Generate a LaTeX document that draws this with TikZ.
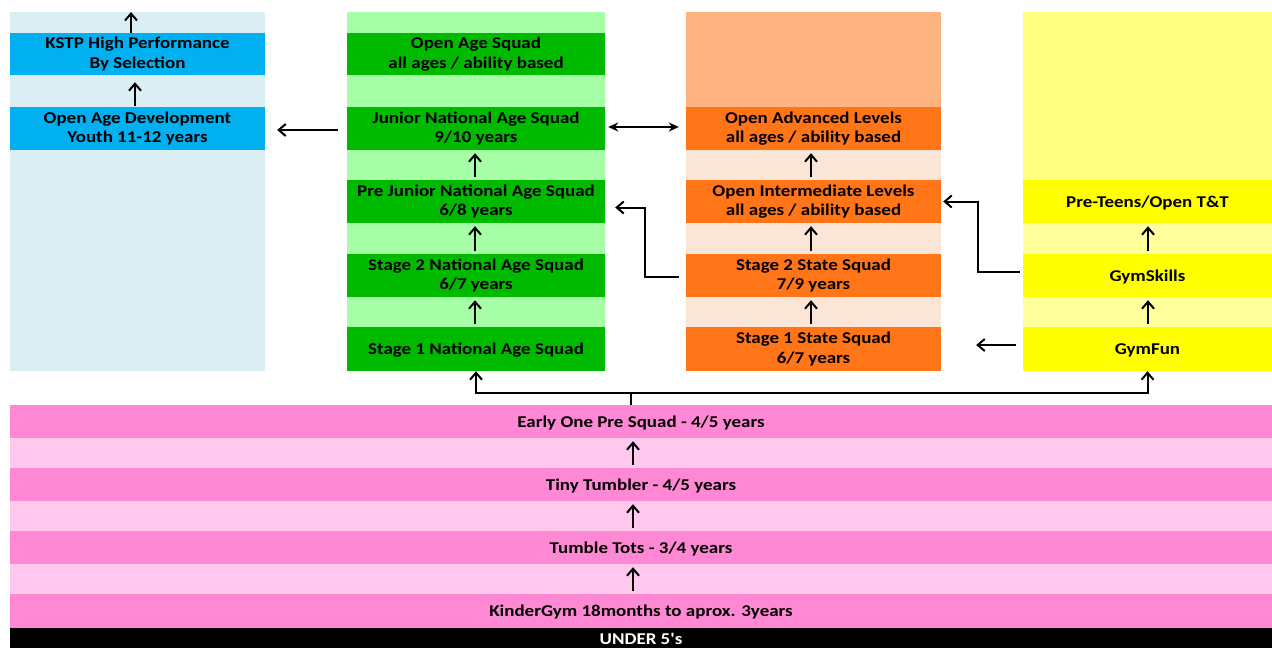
\documentclass[tikz,border=0pt]{standalone}
\usepackage{fontspec}
\newfontfamily\lblfont{Carlito}[FakeStretch=1.15]
\usetikzlibrary{arrows.meta}
\definecolor{bluelt}{HTML}{DAEEF3}
\definecolor{bluedk}{HTML}{00B0F0}
\definecolor{greenlt}{HTML}{A6FFA6}
\definecolor{greendk}{HTML}{00BA00}
\definecolor{orangetop}{HTML}{FFB380}
\definecolor{orangelt}{HTML}{FBE5D6}
\definecolor{orangedk}{HTML}{FF7518}
\definecolor{yellowtop}{HTML}{FFFF80}
\definecolor{yellowlt}{HTML}{FFFF9C}
\definecolor{yellowdk}{HTML}{FFFF00}
\definecolor{pinklt}{HTML}{FFC8EC}
\definecolor{pinkdk}{HTML}{FF88D4}
\begin{document}
\begin{tikzpicture}[x=1pt,y=-1pt,
  panel/.style={rectangle, draw=none, inner sep=0pt, anchor=north west},
  level/.style={rectangle, draw=none, inner sep=0pt, align=center, text=black,
    minimum height=43pt, font=\lblfont\bfseries\fontsize{16.5}{19.5}\selectfont},
  oneline/.style={text depth=0.5pt},
  bluebox/.style={level, fill=bluedk, minimum width=255pt},
  greenbox/.style={level, fill=greendk, minimum width=258pt},
  orangebox/.style={level, fill=orangedk, minimum width=255pt},
  yellowbox/.style={level, oneline, fill=yellowdk, minimum width=249pt},
  pinkbox/.style={level, oneline, fill=pinkdk, minimum width=1262pt, minimum height=33pt},
  up/.style={draw=black, line width=2pt, -{Straight Barb[length=7pt,width=12pt]}},
  stepup/.style={up, shorten <=3pt, shorten >=3pt},
  both/.style={draw=black, line width=2pt, {Stealth[length=10pt,width=9pt]}-{Stealth[length=10pt,width=9pt]}}
]
\useasboundingbox (0,0) rectangle (1272,648);
\fill[white] (0,0) rectangle (1272,648);

% ---- blue column
\node[panel, fill=bluelt, minimum width=255pt, minimum height=359pt] (bbg) at (10,12) {};
\node[bluebox, minimum height=42pt] (kstp) at (137.5,54) {KSTP High Performance\\By Selection};
\node[bluebox] (oad) at (137.5,128.5) {Open Age Development\\Youth 11-12 years};

% ---- green column
\node[panel, fill=greenlt, minimum width=258pt, minimum height=359pt] (gbg) at (347,12) {};
\node[greenbox, minimum height=42pt] (oas) at (476,54) {Open Age Squad\\all ages / ability based};
\node[greenbox] (jnr) at (476,128.5) {Junior National Age Squad\\9/10 years};
\node[greenbox] (pjn) at (476,201.5) {Pre Junior National Age Squad\\6/8 years};
\node[greenbox] (s2n) at (476,275.5) {Stage 2 National Age Squad\\6/7 years};
\node[greenbox, oneline, minimum height=44pt] (s1n) at (476,349) {Stage 1 National Age Squad};

% ---- orange column
\node[panel, fill=orangetop, minimum width=255pt, minimum height=95pt] (obgt) at (686,12) {};
\node[panel, fill=orangelt, minimum width=255pt, minimum height=264pt] (obg) at (686,107) {};
\node[orangebox] (oadv) at (813.5,128.5) {Open Advanced Levels\\all ages / ability based};
\node[orangebox] (oint) at (813.5,201.5) {Open Intermediate Levels\\all ages / ability based};
\node[orangebox] (s2s) at (813.5,275.5) {Stage 2 State Squad\\7/9 years};
\node[orangebox, minimum height=44pt] (s1s) at (813.5,349) {Stage 1 State Squad\\6/7 years};

% ---- yellow column
\node[panel, fill=yellowtop, minimum width=249pt, minimum height=168pt] (ybgt) at (1023,12) {};
\node[panel, fill=yellowlt, minimum width=249pt, minimum height=191pt] (ybg) at (1023,180) {};
\node[yellowbox] (pre) at (1147.5,201.5) {Pre-Teens/Open T\&T};
\node[yellowbox] (gsk) at (1147.5,275.5) {GymSkills};
\node[yellowbox, minimum height=44pt] (gfn) at (1147.5,349) {GymFun};

% ---- pink band
\node[panel, fill=pinklt, minimum width=1262pt, minimum height=223pt] (pbg) at (10,405) {};
\node[pinkbox] (early) at (641,421.5) {Early One Pre Squad - 4/5 years};
\node[pinkbox] (tiny) at (641,484.5) {Tiny Tumbler - 4/5 years};
\node[pinkbox] (tots) at (641,547.5) {Tumble Tots - 3/4 years};
\node[pinkbox, minimum height=34pt] (kinder) at (641,611) {KinderGym 18months to aprox. 3years};
\node[pinkbox, fill=black, text=white, minimum height=20pt, text depth=0pt] (under) at (641,638) {\raisebox{-1.5pt}{UNDER 5's}};

% ---- helper coordinates
\coordinate (bx1) at (131,0);
\coordinate (bx2) at (135,0);
\coordinate (gx) at (475,0);
\coordinate (ox) at (811,0);
\coordinate (yx) at (1148,0);
\coordinate (px) at (633,0);
\coordinate (j) at (631,393);

% ---- blue arrows
\draw[up] (kstp.north -| bx1) -- (bbg.north -| bx1);
\draw[up, shorten <=1pt, shorten >=7pt] (oad.north -| bx2) -- (kstp.south -| bx2);
\draw[up, shorten <=9pt, shorten >=12pt] ([yshift=-1.5pt]jnr.west) -- ([yshift=-1.5pt]jnr.west -| oad.east);

% ---- green arrows
\draw[stepup] (pjn.north -| gx) -- (jnr.south -| gx);
\draw[stepup] (s2n.north -| gx) -- (pjn.south -| gx);
\draw[stepup] (s1n.north -| gx) -- (s2n.south -| gx);

% ---- double arrow
\draw[both, shorten <=3pt, shorten >=7pt] ([yshift=1.5pt]jnr.east) -- ([yshift=1.5pt]jnr.east -| oadv.west);

% ---- orange arrows
\draw[stepup] (oint.north -| ox) -- (oadv.south -| ox);
\draw[stepup] (s2s.north -| ox) -- (oint.south -| ox);
\draw[stepup] (s1s.north -| ox) -- (s2s.south -| ox);
\draw[up, shorten <=7pt, shorten >=10pt] ([yshift=-1.5pt]s2s.west) -- ++(-41,0) |- ([yshift=-6pt]pjn.east);

% ---- yellow arrows
\draw[stepup] (gsk.north -| yx) -- (pre.south -| yx);
\draw[stepup] (gfn.north -| yx) -- (gsk.south -| yx);
\draw[up, shorten <=3pt, shorten >=2pt] ([yshift=3.5pt]gsk.west) -- ++(-45,0) |- (oint.east);
\draw[up, shorten <=7pt, shorten >=35pt] ([yshift=4pt]gfn.west) -- ([yshift=4pt]gfn.west -| s1s.east);

% ---- pink arrows
\draw[stepup] (tiny.north -| px) -- (early.south -| px);
\draw[stepup] (tots.north -| px) -- (tiny.south -| px);
\draw[stepup] (kinder.north -| px) -- (tots.south -| px);

% ---- split connector
\draw[line width=2pt] (early.north -| j) -- (j);
\draw[up] (j) -| (s1n.south);
\draw[up] (j) -| (gfn.south);
\end{tikzpicture}
\end{document}
